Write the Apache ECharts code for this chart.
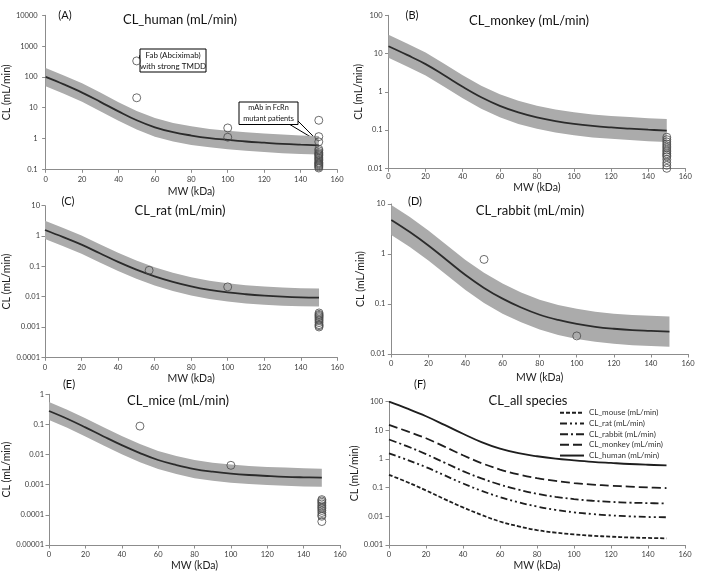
<!DOCTYPE html>
<html><head><meta charset="utf-8">
<script src="https://cdn.jsdelivr.net/npm/echarts@6/dist/echarts.min.js"></script>
<style>html,body{margin:0;padding:0;background:#fff}#c{width:704px;height:582px}</style>
</head><body><div id="c"></div>
<script>
// ---------- data ----------
const MW = [0,10,20,30,40,50,60,70,80,90,100,110,120,130,140,150];
const xTicks = [0,20,40,60,80,100,120,140,160];

const humanCL    = [100,57,31,15.5,7.6,3.9,2.3,1.6,1.25,1.03,0.9,0.8,0.73,0.67,0.63,0.6];
const humanUpper = [195,112,62,31,15,7.8,4.6,3.2,2.5,2.05,1.8,1.6,1.46,1.35,1.26,1.2];
const humanLower = [50,28.5,15.5,7.7,3.8,1.95,1.15,0.8,0.62,0.52,0.45,0.4,0.365,0.335,0.315,0.3];

const monkeyCL    = [15.5,9.2,5.3,2.7,1.35,0.72,0.43,0.29,0.215,0.172,0.145,0.128,0.117,0.109,0.102,0.097];
const monkeyUpper = [31,18.4,10.6,5.4,2.7,1.44,0.86,0.58,0.43,0.344,0.29,0.256,0.234,0.218,0.204,0.194];
const monkeyLower = [7.8,4.6,2.65,1.35,0.68,0.36,0.215,0.145,0.108,0.086,0.073,0.064,0.059,0.055,0.051,0.049];

const ratCL    = [1.58,0.92,0.52,0.27,0.14,0.078,0.047,0.031,0.022,0.0168,0.0138,0.012,0.0108,0.01,0.0095,0.0093];
const ratUpper = [3.2,1.84,1.04,0.54,0.28,0.156,0.094,0.062,0.044,0.0336,0.0276,0.024,0.0216,0.02,0.019,0.0186];
const ratLower = [0.79,0.46,0.26,0.135,0.07,0.039,0.0235,0.0155,0.011,0.0084,0.0069,0.006,0.0054,0.005,0.0048,0.0047];

const rabbitCL    = [4.8,2.75,1.48,0.75,0.38,0.21,0.128,0.085,0.061,0.048,0.04,0.035,0.032,0.03,0.029,0.028];
const rabbitUpper = [9.6,5.5,2.96,1.5,0.76,0.42,0.256,0.17,0.122,0.096,0.08,0.07,0.064,0.06,0.058,0.056];
const rabbitLower = [2.4,1.38,0.74,0.375,0.19,0.105,0.064,0.043,0.031,0.024,0.02,0.0175,0.016,0.015,0.0145,0.014];

const mouseCL    = [0.28,0.155,0.08,0.04,0.0205,0.0112,0.0066,0.0045,0.0033,0.0027,0.00233,0.0021,0.00195,0.00183,0.00176,0.00171];
const mouseUpper = [0.56,0.31,0.16,0.08,0.041,0.0224,0.0132,0.009,0.0066,0.0054,0.0047,0.0042,0.0039,0.0037,0.0035,0.0034];
const mouseLower = [0.14,0.078,0.04,0.02,0.0103,0.0056,0.0033,0.00225,0.00165,0.00135,0.00117,0.00105,0.00098,0.00092,0.00088,0.00086];

const humanObsMW = [50,50,100,100,150,150,150,150,150,150,150,150,150,150,150,150,150,150,150,150,150,150,150,150];
const humanObsCL = [330,21,2.2,1.1,3.9,1.15,0.78,0.45,0.4,0.35,0.32,0.3,0.28,0.25,0.23,0.21,0.19,0.17,0.16,0.15,0.14,0.13,0.12,0.11];
const monkeyObsMW = [150,150,150,150,150,150,150,150,150,150,150,150,150,150,150];
const monkeyObsCL = [0.065,0.056,0.049,0.043,0.038,0.034,0.03,0.027,0.024,0.022,0.02,0.017,0.014,0.012,0.01];
const ratObsMW = [57,100,150,150,150,150,150,150,150,150,150,150,150];
const ratObsCL = [0.074,0.021,0.0029,0.0026,0.0024,0.0022,0.002,0.0018,0.0016,0.0014,0.0012,0.0011,0.001];
const rabbitObsMW = [50,100];
const rabbitObsCL = [0.78,0.023];
const mouseObsMW = [50,100,150,150,150,150,150,150,150,150,150,150,150,150];
const mouseObsCL = [0.088,0.0044,0.00032,0.00029,0.00026,0.00023,0.0002,0.00018,0.00016,0.00014,0.00012,0.0001,0.00009,0.00006];

const legendNames = ['CL_mouse (mL/min)','CL_rat (mL/min)','CL_rabbit (mL/min)','CL_monkey (mL/min)','CL_human (mL/min)'];

// ---------- layout ----------
const FONT = 'Lato';
const panels = [
  {letter:'(A)', title:'CL_human (mL/min)', grid:{left:43, top:15.3, width:294, height:154}, yMin:0.1, yMax:10000,
   cl:humanCL, up:humanUpper, lo:humanLower, ox:humanObsMW, oy:humanObsCL,
   tPos:[180,20], lPos:[65,15], yGap:16, xGap:17, yMargin:8, xMargin:6},
  {letter:'(B)', title:'CL_monkey (mL/min)', grid:{left:388.5, top:15.3, width:296.8, height:153}, yMin:0.01, yMax:100,
   cl:monkeyCL, up:monkeyUpper, lo:monkeyLower, ox:monkeyObsMW, oy:monkeyObsCL,
   tPos:[529,21], lPos:[412,15], yGap:12, xGap:14, yMargin:6, xMargin:4},
  {letter:'(C)', title:'CL_rat (mL/min)', grid:{left:45, top:205.7, width:292.3, height:151.6}, yMin:0.0001, yMax:10,
   cl:ratCL, up:ratUpper, lo:ratLower, ox:ratObsMW, oy:ratObsCL,
   tPos:[180,211], lPos:[68,201], yGap:19, xGap:16, yMargin:5, xMargin:6},
  {letter:'(D)', title:'CL_rabbit (mL/min)', grid:{left:391.3, top:204, width:296.7, height:150}, yMin:0.01, yMax:10,
   cl:rabbitCL, up:rabbitUpper, lo:rabbitLower, ox:rabbitObsMW, oy:rabbitObsCL,
   tPos:[530,211], lPos:[415,201], yGap:12, xGap:18, yMargin:6, xMargin:6},
  {letter:'(E)', title:'CL_mice (mL/min)', grid:{left:49, top:394.3, width:291, height:150.7}, yMin:0.00001, yMax:1,
   cl:mouseCL, up:mouseUpper, lo:mouseLower, ox:mouseObsMW, oy:mouseObsCL,
   tPos:[178,401], lPos:[69,384], yGap:17, xGap:14, yMargin:5, xMargin:6},
  {letter:'(F)', title:'CL_all species', grid:{left:389, top:401.7, width:296, height:143.3}, yMin:0.001, yMax:100,
   tPos:[528,401], lPos:[420,384], yGap:11, xGap:15, yMargin:6, xMargin:6}
];

const axisGray = '#8c8c8c';
const labelColor = '#3a3a3a';
const fmt = v => String(Number(v.toPrecision(6)));

const grids = [], xAxes = [], yAxes = [], series = [];
panels.forEach((p, i) => {
  grids.push(Object.assign({containLabel:false}, p.grid));
  xAxes.push({type:'value', gridIndex:i, min:xTicks[0], max:xTicks[xTicks.length-1], interval:xTicks[1]-xTicks[0],
    name:'MW (kDa)', nameLocation:'middle', nameGap:p.xGap,
    nameTextStyle:{fontFamily:FONT, fontSize:10.5, color:'#222'},
    axisLine:{show:true, lineStyle:{color:axisGray, width:1}},
    axisTick:{show:true, length:3.5, lineStyle:{color:axisGray}},
    axisLabel:{fontFamily:FONT, fontSize:7.5, color:labelColor, margin:p.xMargin},
    splitLine:{show:false}});
  yAxes.push({type:'log', logBase:10, gridIndex:i, min:p.yMin, max:p.yMax,
    name:'CL (mL/min)', nameLocation:'middle', nameGap:p.yGap,
    nameTextStyle:{fontFamily:FONT, fontSize:10.5, color:'#222'},
    axisLine:{show:true, lineStyle:{color:axisGray, width:1}},
    axisTick:{show:true, length:3.5, lineStyle:{color:axisGray}},
    minorTick:{show:false},
    axisLabel:{fontFamily:FONT, fontSize:7.5, color:labelColor, margin:p.yMargin, formatter:fmt},
    splitLine:{show:false}});
  if (p.cl) {
    const up = p.up, lo = p.lo;
    series.push({type:'custom', xAxisIndex:i, yAxisIndex:i, z:1, silent:true,
      data: MW.map((m,k)=>[m, up[k], lo[k]]),
      encode:{x:0, y:[1,2]},
      renderItem(params, api){
        if (params.dataIndex !== 0) return null;
        const pts = [];
        for (let k=0;k<MW.length;k++) pts.push(api.coord([MW[k], up[k]]));
        for (let k=MW.length-1;k>=0;k--) pts.push(api.coord([MW[k], lo[k]]));
        return {type:'polygon', shape:{points:pts}, style:{fill:'#ababab'}};
      }});
    series.push({type:'line', name:'model'+i, xAxisIndex:i, yAxisIndex:i, z:3, smooth:0.4, symbol:'none',
      data: MW.map((m,k)=>[m, p.cl[k]]), lineStyle:{color:'#2b2b2b', width:1.8}});
    series.push({type:'scatter', name:'obs'+i, xAxisIndex:i, yAxisIndex:i, z:4, symbol:'circle', symbolSize:8,
      data: p.ox.map((m,k)=>[m, p.oy[k]]),
      itemStyle:{color:'rgba(0,0,0,0)', borderColor:'#4a4a4a', borderWidth:1}});
  }
});

const allCurves = [mouseCL, ratCL, rabbitCL, monkeyCL, humanCL];
const dashes = [[4,2],[7,3,2,3,2,3],[8,3,2,3],[9,4],'solid'];
allCurves.forEach((c, k) => {
  series.push({type:'line', name:legendNames[k], xAxisIndex:5, yAxisIndex:5, z:3, smooth:0.4,
    symbol:'none', showSymbol:false, color:'#1e1e1e',
    itemStyle:{color:'#1e1e1e', opacity:0},
    data: MW.map((m,j)=>[m, c[j]]),
    lineStyle:{color:'#1e1e1e', width:1.8, type:dashes[k]}});
});

const chart = echarts.init(document.getElementById('c'), null, {renderer:'canvas'});
const baseGraphics = [];
panels.forEach(p => {
  baseGraphics.push({type:'text', x:p.tPos[0], y:p.tPos[1], silent:true,
    style:{text:p.title, fontFamily:FONT, fontSize:13, fill:'#111', textAlign:'center', textVerticalAlign:'middle'}});
  baseGraphics.push({type:'text', x:p.lPos[0], y:p.lPos[1], silent:true,
    style:{text:p.letter, fontFamily:FONT, fontSize:11, fill:'#111', textAlign:'center', textVerticalAlign:'middle'}});
});

chart.setOption({
  animation:false,
  backgroundColor:'#fff',
  grid:grids, xAxis:xAxes, yAxis:yAxes, series:series,
  legend:{data:legendNames, orient:'vertical', left:559, top:408, itemWidth:24, itemHeight:8, itemGap:1.2,
    selectedMode:false, textStyle:{fontFamily:FONT, fontSize:8, color:'#333', lineHeight:9.5},
    itemStyle:{opacity:0}, padding:0},
  graphic: baseGraphics
});

// annotations in panel A
const pFab = chart.convertToPixel({gridIndex:0}, [humanObsMW[0], humanObsCL[0]]);
const pMut = chart.convertToPixel({gridIndex:0}, [humanObsMW[6], humanObsCL[6]]);
const ann = [
  {type:'line', silent:true, shape:{x1:140, y1:55, x2:pFab[0]+2.5, y2:pFab[1]-2}, style:{stroke:'#000', lineWidth:1}},
  {type:'rect', silent:true, shape:{x:140, y:49, width:66, height:23}, style:{fill:'#fff', stroke:'#000', lineWidth:1}},
  {type:'text', silent:true, x:173, y:60.5, style:{text:'Fab (Abciximab)\nwith strong TMDD', fontFamily:FONT, fontSize:8, lineHeight:11, fill:'#111', textAlign:'center', textVerticalAlign:'middle'}},
  {type:'line', silent:true, shape:{x1:289, y1:124, x2:pMut[0], y2:pMut[1]}, style:{stroke:'#000', lineWidth:1}},
  {type:'line', silent:true, shape:{x1:297.5, y1:120.5, x2:pMut[0], y2:pMut[1]}, style:{stroke:'#000', lineWidth:1}},
  {type:'rect', silent:true, shape:{x:239, y:102, width:59, height:22.5}, style:{fill:'#fff', stroke:'#000', lineWidth:1}},
  {type:'text', silent:true, x:268.5, y:113, style:{text:'mAb in FcRn\nmutant patients', fontFamily:FONT, fontSize:7.3, lineHeight:10.5, fill:'#111', textAlign:'center', textVerticalAlign:'middle'}}
];
chart.setOption({graphic: baseGraphics.concat(ann)});
</script>
</body></html>
